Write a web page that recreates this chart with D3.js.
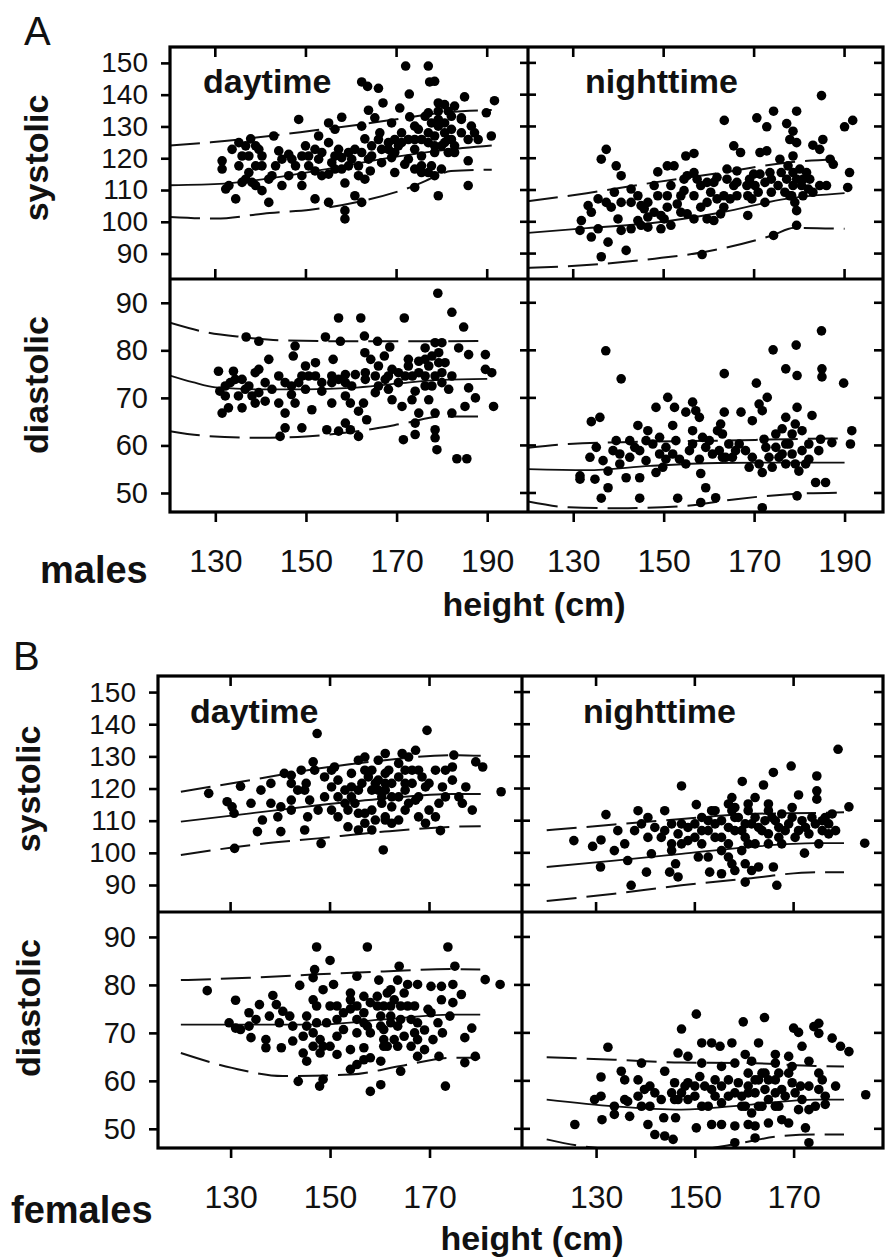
<!DOCTYPE html>
<html><head><meta charset="utf-8">
<script src="https://cdn.jsdelivr.net/npm/d3@7"></script>
<style>body{margin:0;background:#fff}svg{display:block}</style>
</head><body><svg id="c" width="885" height="1257"></svg>
<script>
// ---------- tick labels ----------
const sysTicks = [90,100,110,120,130,140,150];
const diaTicks = [50,60,70,80,90];
const maleHeightTicks = [130,150,170,190];
const femaleHeightTicks = [130,150,170];

// ---------- males (A) : [height cm, pressure mmHg] ----------
const maleDaySys = [[172,149],[177,149],[178.4,144.2],[177.3,144],[162.3,144],[163.6,142.6],[166,142],[172.8,140.2],[185,139.3],[191.6,138.1],[167,137.4],[170.7,135.8],[163.8,135.1],[179.2,137.4],[180.6,136.9],[182.8,136.4],[157.9,132.9],[148.4,132.2],[155,131.1],[165.2,132.7],[168.9,131.1],[172.9,133],[177,134.3],[179.2,134.8],[181.4,134.8],[184.3,132.7],[189.8,134.3],[163,126.1],[166.3,128],[174.8,129.1],[186.5,130.1],[190.9,127],[152.8,127],[142.9,127],[137.8,126.1],[133.7,122.8],[135.9,120.7],[131.5,119.2],[131.5,116.6],[138.9,123.9],[140.3,120.7],[144,122.3],[146.9,119.7],[149.1,120.7],[149.9,123.9],[152,122.8],[155,124.9],[157.2,122.8],[159.4,121.8],[160.1,119.7],[161.6,117.6],[163.8,119.7],[166.7,118.6],[169.6,121.8],[171.1,124.9],[172.6,125.9],[174,122.8],[175.5,125.9],[177,124.9],[178.4,127],[179.9,123.9],[181.4,121.8],[182.8,121.8],[185.8,125.9],[188,125.9],[177.7,131.1],[179.2,130.1],[180.6,131.1],[182.1,129.1],[171.8,118.1],[175.5,117.6],[177.7,117.6],[175.5,115.5],[179.9,116.6],[185.8,119.2],[185.8,111.4],[179.2,108.2],[174,110.8],[163,113.4],[161.6,114.5],[158.6,112.2],[155,115],[152,116],[149.1,111.4],[144.7,111.4],[140.3,109.8],[141.8,106.1],[138.1,112.4],[135.9,112.4],[133,111.4],[132.3,110.3],[134.5,107.2],[152,107.2],[155,106.1],[160.8,108.2],[162.3,106.1],[158.6,103.5],[158.6,100.9],[147.7,117.6],[146.2,114.5],[140.3,117.6],[137.4,115.5],[138.9,117.6],[152.8,119.7],[155.7,118.6],[157.9,120.2],[164.5,123.9],[168.2,122.8],[168.9,120.2],[170.4,123.9],[166,125.9],[174,130.1],[178.4,121.8],[175.5,120.7],[180.6,124.9],[182.1,133.2],[184.3,132.2],[187.2,128],[146.2,121.2],[150.6,117.6],[153.5,121.8],[156.4,116.6],[159.4,117.6],[160.8,122.8],[164.2,116],[168.2,124.9],[162.3,130.1],[156.4,129.1],[136.7,123.9],[135.2,117.6],[142.5,114.5],[149.1,114.5],[169.6,115.5],
  [135.2,124.9],[137.4,120.7],[139.6,122.8],[136.7,113.4],[138.9,111.4],[141.8,113.4],[143.3,117.6],[144.7,119.7],[150.6,120.7],[153.5,114.5],[156.4,120.7],[157.9,116.6],[162.3,121.8],[164.5,120.7],[166.7,122.8],[169.6,125.9],[171.1,128],[174,125.9],[177,128],[178.4,123.9],[181.4,125.9],[182.8,123.9],[184.3,128],[179.2,132.2],[176.3,133.2],[180.6,128],[182.1,125.9],[172.6,119.7],[174,116.6],[177,115.5],[178.4,114.5]];
const maleNightSys = [[184.9,139.7],[163.4,131.9],[170.6,132.7],[174.3,134.8],[179.4,134.8],[172.8,129.9],[177.2,130.9],[190,129.9],[191.8,131.9],[178.6,128.5],[177.9,125.9],[179.4,124.9],[183,124.1],[185.2,125.9],[165.5,123.9],[167,121.8],[171.3,121.8],[172.8,122.3],[175.7,119.7],[186.8,119.7],[191.1,115.5],[190.7,110.8],[137.3,122.8],[136.2,119.7],[139.5,117.6],[140.6,114.5],[148.7,115.7],[150.8,117.6],[152.3,117.6],[154.9,120.7],[156.7,121.5],[133.3,105.1],[134,103],[131.8,100.4],[131.5,97.3],[134,95.2],[137.7,93.6],[136.2,89],[141.7,91],[137.3,106.1],[140.6,106.1],[139.9,100.9],[140.6,97.3],[144.3,100.4],[146.5,98.3],[149.4,97.8],[151.6,98.9],[144.3,108.2],[146.5,106.1],[148.7,108.2],[150.8,104.6],[153,105.6],[154.5,109.8],[155.2,114.5],[157.4,113.4],[158.2,111.4],[159.6,112.4],[160.4,109.3],[161.8,114],[164,113.4],[166.2,112.4],[168.4,111.4],[169.9,115],[171.3,115],[173.5,115.5],[159.6,100.9],[161.1,100.4],[162.6,102.5],[163.3,104.6],[158.2,104.6],[155.2,102.5],[156.7,100.9],[168.6,102],[168.6,108.2],[170.9,109.3],[172.4,106.1],[173.8,109.3],[175.3,111.4],[176.8,109.3],[178.3,108.2],[179.4,103.5],[179,106.1],[180.5,111.4],[182,110.3],[184.5,111.4],[186,111.4],[177.2,113.4],[179.4,113.4],[180.1,116.6],[178.6,120.7],[181.6,115.5],[184.5,122.8],[187.5,118.1],[166.2,116],[169,113.4],[174.3,95.7],[179.4,98.9],[158.5,89.7],[166.2,108.2],[163.3,108.2],[151.6,111.4],[147.9,111.4],[142.8,110.3],[138.4,104.6],[145.7,104.1],[150.8,108.2],[149.4,102],[153.8,103],[146.5,101.5],[135.5,97.8],[142.8,97.8],[145,98.9],
  [135.5,107.2],[139.1,109.3],[142.8,106.1],[145,105.1],[147.9,103],[150.1,100.9],[153.8,108.2],[156.7,108.2],[159.6,106.1],[161.8,107.2],[164.7,107.2],[165.5,111.4],[169.5,107.2],[170.2,111.4],[172.4,112.4],[173.8,113.4],[176,115.5],[177.5,117.6],[178.6,115.5],[180.8,113.4],[182.3,113.4],[178.6,111.4],[177.9,108.2],[180.8,108.2],[183,109.3],[164,116.6],[161.1,112.4],[156.7,115.5],[154.5,113.4]];
const maleDayDia = [[179.1,92],[182.2,88],[184.8,84.9],[157.2,86.8],[162.1,86.8],[171.7,86.8],[136.8,82.8],[139.6,81.9],[154.3,82.8],[157.6,81.9],[162.9,83],[165.8,81.9],[147.6,80.9],[147.2,78.8],[156,78.1],[163,79.5],[167.3,78.8],[168.5,80.7],[176.3,80.5],[178.5,81.6],[180,81.6],[183.7,80.5],[185.9,79.1],[189.6,79.1],[141.8,78.1],[139.6,76],[138.8,75.3],[130.7,75.6],[134,75.6],[149.9,76.7],[152.1,77.4],[149.1,74.6],[152.1,74.6],[155.7,74.6],[158.7,74.9],[160.9,74.9],[163.1,75.3],[166,76.7],[168.2,74.6],[170.4,75.3],[172.6,76.7],[174.9,77.7],[177.1,76.7],[179.3,77.4],[178.5,74.6],[180,73.2],[191,75.3],[191.4,68.2],[185.9,72.1],[187.4,70],[185.1,68.2],[182.2,66.8],[178.5,66.8],[174.9,66.8],[171.2,68.2],[174.1,64.7],[174.1,62.3],[171.5,61.2],[178.5,63.3],[178.5,61.6],[178.9,59.1],[183.3,57.2],[185.5,57.2],[177.1,69.6],[174.1,71.4],[168.2,71.8],[166,72.5],[162.7,68.9],[161.6,67.2],[163.4,65.4],[159.8,68.9],[158.7,64.7],[159.8,63.3],[161.6,61.9],[154.6,63.3],[157.2,63],[149.1,63.7],[145.4,63.7],[144.3,61.9],[151.3,67.5],[147.6,68.9],[144,68.9],[145.4,66.8],[141,69.3],[139.6,71.1],[136.6,71.8],[135.1,70.4],[132.2,70.4],[131,71.4],[133.3,73.2],[135.9,73.9],[131.5,66.8],[132.9,67.9],[135.9,67.9],[138.8,68.9],[142.5,71.8],[146.8,72.5],[146.8,70.7],[149.9,71.8],[153.5,71.4],[155.7,73.2],[158.7,73.2],[169,76],[173.5,74.6],[176.3,74.6],[177.8,72.5],[182.2,74.6],[189.6,76],[172.6,78.1],[164.3,78.1],
  [132.2,72.5],[134.4,73.9],[137.4,72.5],[138.1,70.4],[141,73.2],[144,74.6],[145.4,73.2],[148.4,73.2],[150.6,74.6],[153.5,73.2],[157.2,73.9],[160.1,72.5],[163.1,73.9],[165.3,74.6],[167.5,73.9],[170.4,73.2],[171.9,74.6],[174.9,75.3],[176.3,78.1],[177.8,78.8],[179.3,79.5],[180.7,77.4],[180,75.3],[181.5,71.8],[176.3,72.5],[173.4,69.6],[169,69.6],[165.3,71.1],[158.7,70.4],[155.7,68.9]];
const maleNightDia = [[137.2,79.9],[140.6,74],[184.9,84.1],[174.2,80.1],[179.3,81.1],[177,76.1],[179.5,74.7],[185,76.1],[185,74.4],[189.8,73.1],[163.4,75.1],[170.5,73.1],[172.9,70.1],[171.1,68.7],[171.8,67.3],[169.6,65.2],[167.1,67],[163.4,67],[162.6,64.5],[161.9,63.1],[150.9,70.1],[148.3,68],[152.4,68],[154.9,67],[156.4,69.1],[157.1,67.3],[157.9,65.9],[156.4,63.1],[152,64.2],[144.3,64.2],[146.5,63.1],[134,65],[135.9,65.9],[179.5,68],[177,65.9],[182.8,66.3],[179.1,64.5],[176.2,63.5],[174.8,62.4],[180.6,63.1],[172.2,61.3],[184.7,61.3],[191.6,63.1],[191.3,60.3],[187.2,60.6],[139.5,61],[142.5,61],[138.8,58.9],[133.7,57.5],[140.3,58.2],[147.6,60.3],[150.5,59.6],[152.7,61],[152,58.2],[154.9,56.1],[155.7,58.9],[157.9,57.1],[160.1,61],[160.8,58.2],[162.3,58.9],[163.7,57.5],[165.9,58.9],[168.1,58.9],[168.9,55.4],[171.8,54.3],[174,55.4],[174.8,59.6],[177,60.3],[178.4,58.2],[179.1,56.1],[179.9,54.6],[182.1,57.1],[184.3,58.9],[131.5,53.6],[131.5,52.9],[134.8,52.9],[137.7,54.6],[141.7,53.2],[144.7,53.2],[146.1,56.8],[148.3,54.3],[149.8,55.4],[137.7,51.1],[136.2,48.9],[144.7,48.9],[153.1,48.9],[158.2,54.1],[159.3,51.1],[158.2,48],[161.5,49],[171.8,46.9],[179.5,49.4],[183.6,52.2],[185.8,52.2],[146.1,61],[144.7,58.9],[158.6,61.7],[164.4,60.3],[172.6,59.6],[176.2,58.2],
  [149.1,58.2],[150.5,57.1],[153.5,57.1],[156.4,60.3],[159.3,59.6],[163,57.5],[165.2,57.5],[166.7,60.3],[169.6,57.5],[171.1,56.1],[173.3,57.5],[175.5,57.5],[177,56.1],[177.7,60.3],[178.4,62.4],[180.6,58.9],[181.4,56.1],[182.1,60.3],[142.5,57.5],[140.3,56.1],[143.6,59.6],[136.6,56.8],[135.1,59.6],[149.1,61.7],[163,62.4]];

// percentile curves, males
const maleDaySysCurves = {
  upper:[[120,124],[129,125],[142,127],[152,128.8],[162,130.6],[171,132.5],[180,134.3],[191,135.2]],
  median:[[120,111.5],[132,112],[141,113.5],[150,115.5],[160,118],[170,120.5],[180,122.5],[191,124]],
  lower:[[120,101.5],[130,101],[142,102.8],[151,103.8],[162,106.4],[174,111.4],[179,114.5],[182,116],[191,116.4]]};
const maleNightSysCurves = {
  upper:[[120,106.5],[133,109],[148,112.4],[163,115.5],[177,118.6],[190,119.7]],
  median:[[120,96.5],[133,98],[148,99.7],[163,103],[177,107.2],[190,109]],
  lower:[[120,85.5],[133,86.4],[148,88.4],[159,90.5],[174,95.7],[179,98.1],[190,97.8]]};
const maleDayDiaCurves = {
  upper:[[120,85.8],[128,83.8],[136,82.8],[145,82.1],[160,81.9],[175,81.9],[190,82]],
  median:[[120,74.7],[125,73.3],[130,72.2],[140,71.8],[150,71.8],[160,72.1],[170,73],[180,73.8],[190,74]],
  lower:[[120,63],[128,62],[140,61.6],[150,61.9],[160,62.8],[172,64.7],[180,66.1],[190,66.1]]};
const maleNightDiaCurves = {
  upper:[[120,59.5],[129,60.3],[147,60.8],[162,61],[177,61.3],[190,61.5]],
  median:[[120,55],[133,54.8],[147,55.7],[162,56.3],[177,56.4],[190,56.4]],
  lower:[[120,48.2],[129,47],[140,46.8],[155,47.3],[166,48.7],[177,49.7],[190,50.1]]};

// ---------- females (B) ----------
const femaleDaySys = [[147.4,137.1],[169.5,138.1],[184.4,119],[160.7,100.9],[125.6,118.5],[130.8,101.4],[148.2,102.9],[172.2,106.9],[132,120.7],[129.3,115.9],[130.3,114.3],[130.7,112.3],[135.4,106.6],[136.4,110.2],[140.1,106.6],[144.9,107.1],[140.1,114.3],[139.5,111.2],[134.1,115.4],[136.1,119.5],[138.1,121.6],[140.8,124.7],[142.2,124.1],[144.2,125.7],[146.6,128.3],[146.9,125.7],[145.2,121.6],[143.5,119.5],[145.9,116.4],[147.6,113.3],[145.5,111.2],[148.9,117.4],[150.9,126.7],[151.6,122.6],[153,119.5],[154.3,124.7],[155,115.4],[157,129.8],[155.7,112.3],[157,109.2],[151.6,111.2],[150.3,113.3],[158.4,125.7],[159.1,121.6],[159.7,128.8],[160.4,117.4],[161.1,124.7],[162.4,121.6],[158.4,113.3],[159.1,110.2],[161.1,111.2],[162.4,114.3],[164.5,130.9],[165.8,129.8],[167.2,131.9],[165.1,125.7],[166.5,121.6],[167.8,125.7],[163.8,117.4],[165.1,113.3],[167.2,116.4],[167.8,111.2],[169.2,109.2],[169.9,113.3],[171.2,111.2],[169.2,120.5],[171.2,125.7],[172.6,120.5],[173.2,125.7],[174.6,126.7],[174.9,130.4],[179.3,128.3],[180.7,126.7],[177.3,120.5],[175.9,117.4],[176.6,115.4],[178.6,113.3],[159.7,122.6],[156.4,121.6],[154.3,120.5],[150.3,120.5],[142.2,116.4],[142.2,113.3],[153.6,108.1],[155.7,107.1],[158.4,107.1],[162.4,109.2],[163.8,110.2],[161.1,119.5],[165.1,121.6],[163.8,127.8],[155.7,128.8],[161.1,130.9],
  [148.9,123.6],[150.3,125.7],[151.6,117.4],[153,115.4],[154.3,117.4],[155.7,119.5],[157,125.7],[157.7,123.6],[158.4,119.5],[159.7,119.5],[160.4,115.4],[161.1,121.6],[161.8,125.7],[162.4,117.4],[163.8,123.6],[165.1,119.5],[165.8,115.4],[166.5,125.7],[167.8,117.4],[168.5,123.6],[169.9,121.6],[171.9,115.4],[173.2,117.4],[174.6,122.6],[153.6,113.3],[157,112.3],[161.1,110.2],[144.9,119.5],[142.2,121.6],[138.1,115.4]];
const femaleNightSys = [[179,132.2],[169.5,127],[165.9,125],[174.7,123.9],[147.3,120.8],[159.6,122.2],[163.9,121.1],[171,118],[174.7,119.3],[174.7,116.7],[181.2,114.3],[150.3,115],[184.4,103],[125.5,103.8],[132,111.9],[129.3,102],[131,104],[130.9,95.6],[137.1,89.9],[140.2,94],[144.9,94],[146.6,92.5],[153,94],[155.4,93.5],[160.2,90.9],[166.6,89.9],[165.9,95.6],[172.2,99.9],[133.7,100.7],[135.8,102.8],[134.4,106.9],[138.5,113.1],[139.2,109],[140.5,111],[140.5,104.8],[141.2,99.7],[143.9,113.1],[145.3,109],[146.6,105.9],[145.3,100.7],[146.1,96.6],[148.6,103.8],[150,109],[151.4,111],[152.7,106.9],[154.1,104.8],[153.4,113.1],[155.4,110],[156.8,115.2],[157.5,117.2],[158.1,111],[159.5,106.9],[160.8,113.1],[161.5,109],[162.2,102.8],[163.6,106.9],[164.9,115.2],[165.6,111],[167,107.9],[167.6,102.8],[169.7,111],[169.7,114.1],[171,106.9],[173.1,105.9],[173.7,111],[175.8,110],[177.1,109],[177.8,112.1],[178.5,106.9],[175.1,102.8],[157.5,96.6],[158.1,94.5],[160.2,96.6],[161.5,94.5],[162.9,95.6],[156.8,98.7],[152.7,98.7],[151.4,102.8],[147.3,102.8],[143.2,104.8],[137.8,106.9],[136.4,97.6],[150.7,98.7],[155.4,100.7],[159.5,100.7],[164.9,102.8],[167.6,112.1],[162.2,117.2],[158.1,114.1],
  [147.3,109],[148.6,107.9],[150,104.8],[151.4,106.9],[152.7,110],[154.1,109],[155.4,104.8],[156.8,107.9],[156.8,102.8],[158.1,106.9],[158.8,111],[160.2,109],[160.2,104.8],[160.8,102.8],[162.2,111],[162.9,107.9],[164.2,110],[164.9,105.9],[166.3,110],[167,104.8],[168.3,106.9],[169,109],[170.3,104.8],[171.7,110],[172.4,107.9],[174.4,109],[175.8,106.9],[176.4,111],[177.1,105.9],[154.1,113.1],[157.5,113.1],[160.8,115.2],[164.9,113.1],[141.9,107.9],[143.9,106.9],[145.3,102.8]];
const femaleDayDia = [[147.3,87.9],[157.5,87.9],[173.7,87.9],[150,85.1],[163.9,83.9],[175.1,83.9],[146.9,83.2],[146.6,81.5],[155.4,81.8],[125.3,78.8],[143.9,79.9],[148.6,79],[150.7,80.1],[159.8,81],[163.6,81],[165.6,80.1],[167.6,80.1],[170.3,79.7],[172.4,79.7],[174.7,80.1],[181.2,81.1],[184.2,80.1],[131,76.8],[138.5,77.8],[135.8,75.9],[139.2,75.9],[140.5,74.5],[137.8,73.5],[135.1,72.8],[129.7,72.1],[131,71],[134.1,69],[137.1,68.6],[137.1,66.9],[140.2,66.9],[142.5,68.3],[144.6,65.8],[145.3,64.1],[146.6,76.9],[147.3,75.6],[145.3,73.5],[145.3,71.4],[146.6,70],[148,68.6],[148,65.8],[150,67.2],[151.4,69.3],[151.4,65.5],[148.6,60.3],[147.9,58.9],[143.6,59.9],[154.1,62.4],[155.4,63.4],[156.8,66.9],[158.1,64.8],[160.2,64.1],[158.1,57.8],[160.2,59.2],[164.2,62],[167.6,65.1],[171.9,65.1],[173.2,58.9],[177.1,63.8],[179.2,65.1],[177.1,69],[178.5,71],[174.1,73.5],[174.7,76.3],[176.4,78],[172.6,70],[170.7,68.6],[169.7,74.9],[167.6,72.1],[167,70],[165.6,75.6],[164.2,72.8],[162.9,68.6],[161.5,67.2],[160.8,70.7],[160.2,73.5],[159.5,77.6],[158.1,76.3],[156.8,74.2],[155.4,72.8],[154.1,75],[154.1,76.9],[152.7,70.7],[155.4,70],[157.5,71.4],[162.2,75.6],[162.2,72.1],[160.8,68.6],[166.3,67.2],[169,66.5],[156.8,77.6],[162.2,79],[151.4,75.6],[149.3,72.1],[142.5,71.4],[139.8,72.1],[133.7,74.2],
  [154.1,78.3],[155.4,75.6],[156.8,72.1],[158.1,70],[159.5,75.6],[160.2,71.4],[160.8,75.6],[160.8,67.2],[161.5,78.3],[162.2,73.5],[162.9,76.9],[163.6,71.4],[163.6,67.2],[164.2,75.6],[164.9,69.3],[164.9,78.3],[166.3,72.8],[167,75.6],[167.6,68.6],[169,70.6],[170.3,74.2],[171.7,72.1],[172.4,76.9],[152.7,74.2],[151.4,72.8],[150,75.6],[148.6,67.2],[154.1,66.5],[156.8,64.4],[147.3,72.1],[146.6,67.2],[144.6,69.3],[141.9,73.5],[133.7,71.4],[132,70.7]];
const femaleNightDia = [[150.3,73.9],[147.3,70.8],[159.8,72.3],[164.1,73.2],[170,71],[171,70.1],[174.1,71.3],[175.1,72],[175.1,69.9],[177.8,68.9],[179.5,67.2],[181.2,66.1],[132.4,67],[184.6,57.1],[125.7,50.9],[131,60.8],[131.2,51.9],[133.7,53],[135.1,62],[135.8,60.2],[129.7,56.1],[131,56.8],[136.4,55.7],[136.8,52.6],[139.2,63.7],[139.8,58.2],[140.9,58.9],[140.5,50.9],[141.9,48.8],[143.9,48.5],[145.6,47.8],[143.7,52.3],[146.1,52.3],[143.9,62],[146.6,65.8],[148.6,65.1],[145.9,59.6],[147.3,57.5],[145.9,56.1],[148.6,59.6],[150,56.8],[151.4,67.9],[153.4,67.9],[151.4,63.7],[151,60.9],[153.4,58.2],[154.1,60.2],[155.1,67.2],[155.4,63],[157.5,67.9],[158.1,63.7],[158.8,59.6],[156.8,56.8],[155.4,55.4],[160.2,65.5],[161.5,64.1],[160.8,61.6],[162.2,60.2],[160.8,57.5],[162.9,67.9],[163.6,61.6],[164.2,58.2],[164.9,60.2],[166.3,65.5],[166.3,63.7],[167,61.6],[167.6,58.2],[169,65.1],[169.7,63],[169.7,59.6],[171.7,67.2],[173.1,64.1],[175.1,61.6],[175.8,60.2],[175.1,58.2],[176.4,56.8],[178.5,58.9],[176.4,55.1],[171.4,58.9],[171,54],[173.1,54],[172.4,50.2],[173.1,47.1],[167.6,51.9],[169,51.2],[164.9,51.2],[162.2,50.6],[160.8,50.9],[158.1,50.6],[158.1,47.1],[155.4,50.9],[153.4,50.9],[150.3,50.2],[162.2,48.1],[162.9,54.7],[166.3,54.7],[161.5,53.3],[159.5,54.7],[152.7,54.7],[143.2,56.1],[140.9,54.7],[138.5,56.8],[133.7,54.7],
  [145.3,57.5],[146.6,56.1],[148,58.9],[148.6,56.1],[150,58.9],[151.4,54.7],[152,58.9],[154.1,56.8],[155.4,58.9],[156.8,60.2],[158.1,57.5],[159.5,56.8],[160.2,54.7],[160.8,58.9],[162.2,57.5],[162.9,60.2],[163.6,54.7],[164.2,61.6],[164.9,56.1],[166.3,60.2],[166.3,57.5],[167,54.7],[168.3,56.8],[169,61.6],[170.3,57.5],[171.7,56.1],[173.1,58.9],[174.4,54.7],[139.2,54.7],[141.9,57.5],[138.5,60.2],[135.8,56.1]];

const femaleDaySysCurves = {
  upper:[[120,119],[134,122.6],[147.6,126.2],[161,128.8],[174.6,130.4],[180.3,130.2]],
  median:[[120,109.7],[134,112.3],[147.6,114.8],[161,116.9],[174.6,118.3],[180.3,118.3]],
  lower:[[120,99.3],[134,102.4],[147.6,104.5],[161,106.6],[174.6,108.1],[180.3,108.3]]};
const femaleNightSysCurves = {
  upper:[[120,107],[133.7,108.8],[147.3,110.5],[160.8,112.1],[174.4,112.4],[180.2,112.6]],
  median:[[120,95.6],[133.7,97.6],[147.3,99.7],[160.8,101.8],[174.4,103],[180.2,103]],
  lower:[[120,85],[133.7,87.3],[147.3,89.9],[160.8,92],[174.4,94],[180.2,94]]};
const femaleDayDiaCurves = {
  upper:[[120,81],[133.7,81.5],[147.3,82.2],[160.8,82.8],[174.4,83.3],[180.2,83.2]],
  median:[[120,71.7],[133.7,71.7],[147.3,71.7],[160.8,72.8],[174.4,73.8],[180.2,73.8]],
  lower:[[120,65.8],[130.3,62.7],[140.5,61],[154.1,61.3],[164.2,63.1],[174.4,64.8],[180.2,64.8]]};
const femaleNightDiaCurves = {
  upper:[[120,64.9],[133.7,64.4],[147.3,63.8],[160.8,63.7],[174.4,63.1],[180.2,63]],
  median:[[120,56.1],[133.7,54.7],[147.3,54],[160.8,55],[174.4,56.1],[180.2,56.1]],
  lower:[[120,47.8],[127,46.4],[140,45.5],[150,45.6],[157.5,46.7],[167.6,48.5],[174.4,48.8],[180.2,48.8]]};

// ---------- drawing ----------
const svg = d3.select("#c");
const FONT = "'Liberation Sans', Arial, Helvetica, sans-serif";
svg.append("rect").attr("width",885).attr("height",1257).attr("fill","#fff");

function drawFigure(f){
  const b = f.box, g = svg.append("g");
  const xL = d3.scaleLinear().domain(f.xDomL).range([b.left,b.mid]);
  const xR = d3.scaleLinear().domain(f.xDomR).range([b.mid,b.right]);
  const yS = d3.scaleLinear().domain(f.sysDom).range([b.div,b.top]);
  const yD = d3.scaleLinear().domain(f.diaDom).range([b.bottom,b.div]);
  const panels = [
    {x:xL,y:yS,pts:f.daySys,cur:f.daySysC,x0:b.left,x1:b.mid,y0:b.top,y1:b.div},
    {x:xR,y:yS,pts:f.nightSys,cur:f.nightSysC,x0:b.mid,x1:b.right,y0:b.top,y1:b.div},
    {x:xL,y:yD,pts:f.dayDia,cur:f.dayDiaC,x0:b.left,x1:b.mid,y0:b.div,y1:b.bottom},
    {x:xR,y:yD,pts:f.nightDia,cur:f.nightDiaC,x0:b.mid,x1:b.right,y0:b.div,y1:b.bottom}];
  panels.forEach((p,i)=>{
    const id = f.label+"clip"+i;
    g.append("clipPath").attr("id",id).append("rect")
      .attr("x",p.x0).attr("y",p.y0).attr("width",p.x1-p.x0).attr("height",p.y1-p.y0);
    const pg = g.append("g").attr("clip-path",`url(#${id})`);
    const line = d3.line().x(d=>p.x(d[0])).y(d=>p.y(d[1])).curve(d3.curveMonotoneX);
    ["upper","median","lower"].forEach(k=>{
      pg.append("path").datum(p.cur[k]).attr("d",line).attr("fill","none")
        .attr("stroke","#111").attr("stroke-width",k==="median"?1.8:2)
        .attr("stroke-dasharray",k==="median"?null:"30,10");
    });
    pg.selectAll("circle").data(p.pts).join("circle")
      .attr("cx",d=>p.x(d[0])).attr("cy",d=>p.y(d[1])).attr("r",4.8).attr("fill","#000");
  });

  const tk = g.append("g").attr("stroke","#000").attr("stroke-width",2.6);
  [[yS,sysTicks],[yD,diaTicks]].forEach(([ys,tv])=>{
    tv.forEach(t=>{
      tk.append("line").attr("x1",b.mid-8).attr("x2",b.mid+8).attr("y1",ys(t)).attr("y2",ys(t));
      tk.append("line").attr("x1",b.right-9).attr("x2",b.right).attr("y1",ys(t)).attr("y2",ys(t));
    });
  });
  [xL,xR].forEach(xs=>{
    f.xTicks.forEach(t=>{
      tk.append("line").attr("x1",xs(t)).attr("x2",xs(t)).attr("y1",b.top).attr("y2",b.top+10);
      tk.append("line").attr("x1",xs(t)).attr("x2",xs(t)).attr("y1",b.div-10).attr("y2",b.div);
    });
  });

  const styleAxis = size => sel=>{
    sel.select(".domain").remove();
    sel.selectAll(".tick line").attr("stroke","#000").attr("stroke-width",2.6);
    sel.selectAll(".tick text").attr("fill","#111").style("font-family",FONT).style("font-size",size+"px");
  };
  g.append("g").attr("transform",`translate(${b.left},0)`)
    .call(d3.axisLeft(yS).tickValues(sysTicks).tickSize(9).tickPadding(13)).call(styleAxis(28));
  g.append("g").attr("transform",`translate(${b.left},0)`)
    .call(d3.axisLeft(yD).tickValues(diaTicks).tickSize(9).tickPadding(13)).call(styleAxis(29));
  [xL,xR].forEach(xs=>{
    g.append("g").attr("transform",`translate(0,${b.bottom})`)
      .call(d3.axisBottom(xs).tickValues(f.xTicks).tickSize(10).tickPadding(27)).call(styleAxis(32));
  });

  const bd = g.append("g").attr("fill","none").attr("stroke","#000").attr("stroke-width",3.2);
  bd.append("rect").attr("x",b.left).attr("y",b.top).attr("width",b.right-b.left).attr("height",b.bottom-b.top);
  bd.append("line").attr("x1",b.mid).attr("x2",b.mid).attr("y1",b.top).attr("y2",b.bottom);
  bd.append("line").attr("x1",b.left).attr("x2",b.right).attr("y1",b.div).attr("y2",b.div);

  const txt = (x,y,s,size,weight,anchor,rot)=>{
    const t = g.append("text").attr("x",x).attr("y",y).text(s)
      .style("font-family",FONT).style("font-size",size+"px").style("font-weight",weight)
      .attr("fill","#111").attr("text-anchor",anchor||"start");
    if(rot){ t.attr("transform",`rotate(-90,${x},${y})`).attr("dy","0.35em"); }
    return t;
  };
  txt(f.letter[0],f.letter[1],f.label,40,"normal");
  txt(f.dayPos[0],f.dayPos[1],"daytime",34,"bold");
  txt(f.nightPos[0],f.nightPos[1],"nighttime",34,"bold");
  txt(f.sysLab[0],f.sysLab[1],"systolic",34,"bold","middle",true);
  txt(f.diaLab[0],f.diaLab[1],"diastolic",34,"bold","middle",true);
  txt(f.sexPos[0],f.sexPos[1],f.sex,38,"bold");
  txt(f.heightPos[0],f.heightPos[1],"height (cm)",34,"bold","middle");
}

drawFigure({
  label:"A", sex:"males",
  box:{left:170,mid:528,right:883,top:47,div:279,bottom:512},
  xDomL:[120,199], xDomR:[120,198.5], sysDom:[82,155], diaDom:[46,95],
  xTicks:maleHeightTicks,
  daySys:maleDaySys, nightSys:maleNightSys, dayDia:maleDayDia, nightDia:maleNightDia,
  daySysC:maleDaySysCurves, nightSysC:maleNightSysCurves, dayDiaC:maleDayDiaCurves, nightDiaC:maleNightDiaCurves,
  letter:[24,45], dayPos:[203,93], nightPos:[585,93], sysLab:[36,158], diaLab:[36,385],
  sexPos:[40,583], heightPos:[534,616]
});
drawFigure({
  label:"B", sex:"females",
  box:{left:158,mid:522,right:883,top:676,div:912,bottom:1148},
  xDomL:[115.4,188.6], xDomR:[115,188.1], sysDom:[81.6,155], diaDom:[46,95.2],
  xTicks:femaleHeightTicks,
  daySys:femaleDaySys, nightSys:femaleNightSys, dayDia:femaleDayDia, nightDia:femaleNightDia,
  daySysC:femaleDaySysCurves, nightSysC:femaleNightSysCurves, dayDiaC:femaleDayDiaCurves, nightDiaC:femaleNightDiaCurves,
  letter:[13,670], dayPos:[190,723], nightPos:[583,723], sysLab:[28,789], diaLab:[28,1008],
  sexPos:[11,1223], heightPos:[532,1250]
});
</script></body></html>
